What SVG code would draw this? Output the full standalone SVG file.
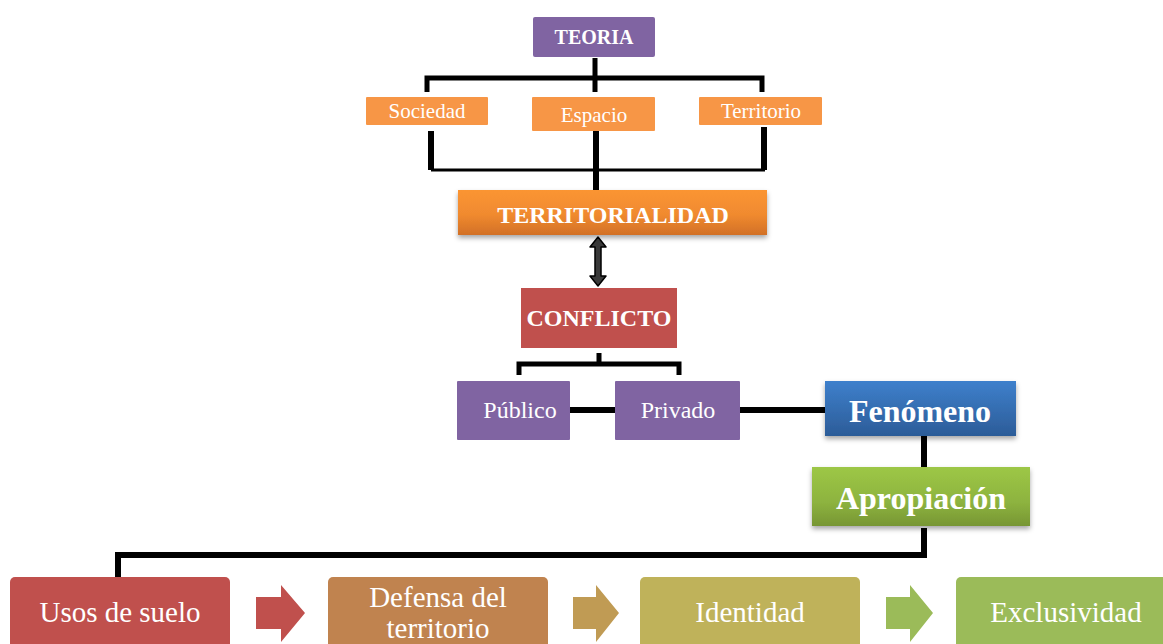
<svg xmlns="http://www.w3.org/2000/svg" width="1163" height="644" viewBox="0 0 1163 644">
<style>
text{font-family:"Liberation Serif","Times New Roman",serif;fill:#fff;text-anchor:middle}
.b{font-weight:bold}
.ln{stroke:#000;fill:none;stroke-linejoin:miter}
</style>
<defs>
<linearGradient id="gO" x1="0" y1="0" x2="0" y2="1"><stop offset="0" stop-color="#FB9533"/><stop offset="0.55" stop-color="#F08A2F"/><stop offset="1" stop-color="#D27027"/></linearGradient>
<linearGradient id="gB" x1="0" y1="0" x2="0" y2="1"><stop offset="0" stop-color="#3E80CC"/><stop offset="1" stop-color="#2C5C98"/></linearGradient>
<linearGradient id="gG" x1="0" y1="0" x2="0" y2="1"><stop offset="0" stop-color="#9DC746"/><stop offset="0.6" stop-color="#8DB33F"/><stop offset="1" stop-color="#779633"/></linearGradient>
<filter id="sh" x="-10%" y="-20%" width="120%" height="150%"><feDropShadow dx="0" dy="3" stdDeviation="2.5" flood-color="#000" flood-opacity="0.35"/></filter>
</defs>
<g id="connectors">
<path class="ln" stroke-width="5" d="M595,58 V78 M427,92 V78 H762 V92 M595,78 V92"/>
<path class="ln" stroke-width="6" d="M431,131 V170"/>
<path class="ln" stroke-width="6" d="M764,127 V170"/>
<path class="ln" stroke-width="3" d="M431,170 H765"/>
<path class="ln" stroke-width="6" d="M596,131 V190"/>
<path d="M598,237 L606,247 H601 V276 H606 L598,286 L590,276 H595 V247 H590 Z" fill="#3a3a3a" stroke="#000" stroke-width="1.5" stroke-linejoin="round"/>
<path class="ln" stroke-width="5" d="M599,353 V364 M519,375 V364 H679 V375"/>
<path class="ln" stroke-width="6" d="M570,410 H615"/>
<path class="ln" stroke-width="6" d="M740,410 H825"/>
<path class="ln" stroke-width="6" d="M924,436 V468"/>
<path class="ln" stroke-width="6" d="M924,528 V555 H118 V583"/>
</g>
<g id="teoria"><rect x="533" y="17" width="122" height="40" rx="2" fill="#8064A2"/><text class="b" x="594" y="44" font-size="20">TEORIA</text></g>
<g id="sociedad"><rect x="366" y="97" width="122" height="28" rx="1" fill="#F79646"/><text x="427" y="118" font-size="21">Sociedad</text></g>
<g id="espacio"><rect x="532" y="97" width="123" height="34" rx="1" fill="#F79646"/><text x="594" y="122" font-size="21">Espacio</text></g>
<g id="territorio"><rect x="699" y="97" width="123" height="28" rx="1" fill="#F79646"/><text x="761" y="118" font-size="21">Territorio</text></g>
<g id="territorialidad"><rect x="458" y="190" width="309" height="45" fill="url(#gO)" filter="url(#sh)"/><text class="b" x="613" y="223" font-size="24">TERRITORIALIDAD</text></g>
<g id="conflicto"><rect x="521" y="288" width="156" height="60" fill="#C0504D"/><text class="b" x="599" y="326" font-size="24">CONFLICTO</text></g>
<g id="publico"><rect x="457" y="381" width="113" height="59" rx="1" fill="#8064A2"/><text x="520" y="418" font-size="24">Público</text></g>
<g id="privado"><rect x="615" y="381" width="125" height="59" rx="1" fill="#8064A2"/><text x="678" y="418" font-size="24">Privado</text></g>
<g id="fenomeno"><rect x="825" y="381" width="191" height="55" fill="url(#gB)" filter="url(#sh)"/><text class="b" x="920" y="422" font-size="32">Fenómeno</text></g>
<g id="apropiacion"><rect x="812" y="467" width="218" height="59" fill="url(#gG)" filter="url(#sh)"/><text class="b" x="921" y="509" font-size="32">Apropiación</text></g>
<g id="usos"><rect x="10" y="577" width="220" height="80" rx="5" fill="#C0504D"/><text x="120" y="622" font-size="29">Usos de suelo</text></g>
<g id="arrow1"><path d="M256,597 H281 V585 L305,613 L281,642 V629 H256 Z" fill="#C0504D"/></g>
<g id="defensa"><rect x="328" y="577" width="220" height="80" rx="5" fill="#C0834F"/><text x="438" y="607" font-size="29">Defensa del</text><text x="438" y="638" font-size="29">territorio</text></g>
<g id="arrow2"><path d="M573,597 H596 V585 L619,613 L596,642 V629 H573 Z" fill="#C09B54"/></g>
<g id="identidad"><rect x="640" y="577" width="220" height="80" rx="5" fill="#BFB25A"/><text x="750" y="622" font-size="29">Identidad</text></g>
<g id="arrow3"><path d="M886,597 H910 V585 L933,613 L910,642 V629 H886 Z" fill="#9BBB59"/></g>
<g id="exclusividad"><rect x="956" y="577" width="220" height="80" rx="5" fill="#9BBB59"/><text x="1066" y="622" font-size="29">Exclusividad</text></g>
</svg>
